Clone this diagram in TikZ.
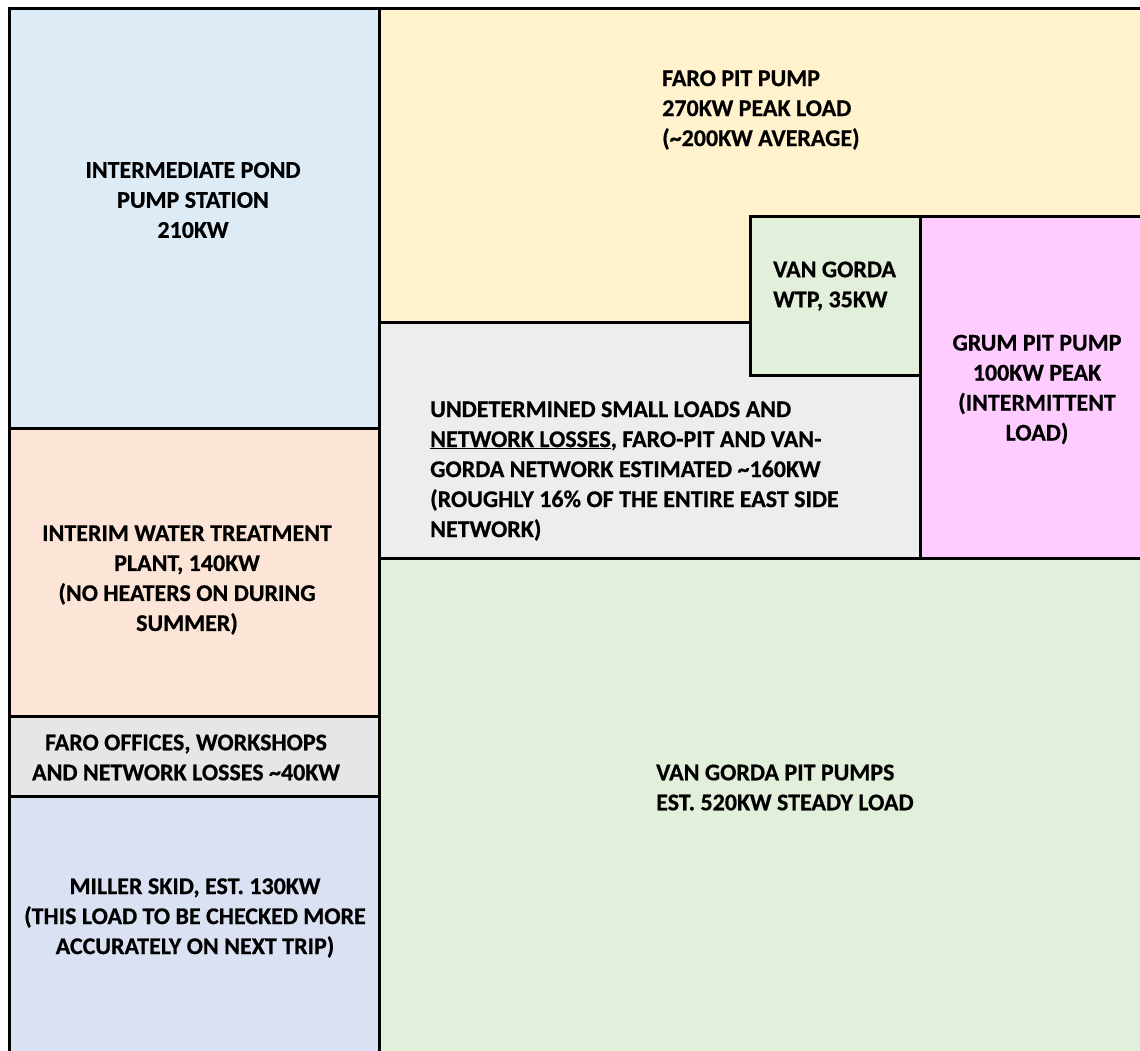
\documentclass[tikz,border=0pt]{standalone}
\usepackage{fontspec}
\setmainfont{Carlito}[BoldFeatures={FakeBold=0.6}]

\definecolor{pondblue}{HTML}{DDEBF7}
\definecolor{pityellow}{HTML}{FFF2CC}
\definecolor{smallgray}{HTML}{EDEDED}
\definecolor{officegray}{HTML}{E7E6E6}
\definecolor{gordagreen}{HTML}{E2EFDA}
\definecolor{grumpink}{HTML}{FFCCFF}
\definecolor{plantsalmon}{HTML}{FCE4D6}
\definecolor{skidlavender}{HTML}{D9E1F2}

\newcommand{\Cell}[5]{% x1, y1, x2, y2, colour
  \draw[cellline, fill=#5] (#1,#2) rectangle (#3,#4);
}

\begin{document}
\begin{tikzpicture}[x=1pt, y=-1pt,
    cellline/.style={line width=3pt},
    celltext/.style={font=\bfseries\fontsize{24}{30}\selectfont, inner sep=0pt, align=center}]
  \useasboundingbox (0,0) rectangle (1140,1051);
  \clip (0,0) rectangle (1140,1051);
  %
  \Cell{9}{9}{379.5}{428}{pondblue}
  \Cell{9}{428}{379.5}{716}{plantsalmon}
  \Cell{9}{716}{379.5}{796}{officegray}
  \Cell{9}{796}{379.5}{1060}{skidlavender}
  %
  \Cell{379.5}{9}{1150}{322}{pityellow}
  \Cell{379.5}{322}{920.5}{558}{smallgray}
  \Cell{920.5}{217}{1150}{558}{grumpink}
  \Cell{750}{217}{920.5}{375}{gordagreen}
  \Cell{379.5}{558}{1150}{1060}{gordagreen}
  %
  \node[celltext] (pond) at (193,200) {INTERMEDIATE POND\\PUMP STATION\\210KW};
  \node[celltext] (plant) at (187,580) {INTERIM WATER TREATMENT\\PLANT, 140KW\\(NO HEATERS ON DURING\\SUMMER)};
  \node[celltext] (offices) at (186,757.5) {FARO OFFICES, WORKSHOPS\\AND NETWORK LOSSES \textasciitilde 40KW};
  \node[celltext] (skid) at (195,918) {MILLER SKID, EST. 130KW\\(THIS LOAD TO BE CHECKED MORE\\ACCURATELY ON NEXT TRIP)};
  %
  \node[celltext, align=left, anchor=west] (faropit) at (662,110) {FARO PIT PUMP\\270KW PEAK LOAD\\(\textasciitilde 200KW AVERAGE)};
  \node[celltext, align=left, anchor=west] (wtp) at (773,286) {VAN GORDA\\WTP, 35KW};
  \node[celltext] (grum) at (1037,389.5) {GRUM PIT PUMP\\100KW PEAK\\(INTERMITTENT\\LOAD)};
  \node[celltext, align=left, anchor=west] (small) at (430,471)
    {UNDETERMINED SMALL LOADS AND\\\underline{NETWORK LOSSES}, FARO-PIT AND VAN-\\GORDA NETWORK ESTIMATED \textasciitilde 160KW\\(ROUGHLY 16\% OF THE ENTIRE EAST SIDE\\NETWORK)};
  \node[celltext, align=left, anchor=west] (gordapit) at (656,787.5) {VAN GORDA PIT PUMPS\\EST. 520KW STEADY LOAD};
\end{tikzpicture}
\end{document}
